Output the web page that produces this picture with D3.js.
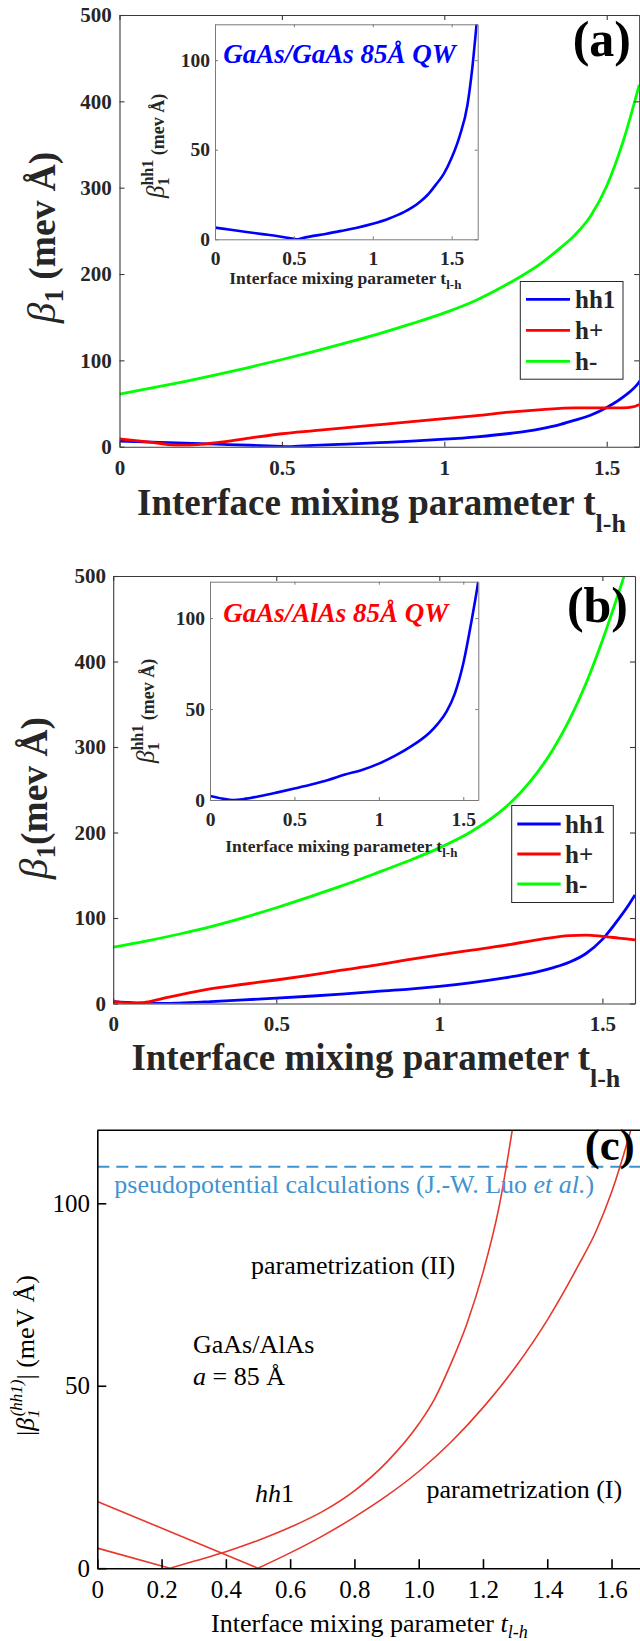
<!DOCTYPE html>
<html><head><meta charset="utf-8">
<script src="https://cdn.jsdelivr.net/npm/d3@7"></script>
<style>body{margin:0;background:#fff}svg{display:block}</style>
</head><body>
<svg id="fig" width="640" height="1641"></svg>
<script>
// ---------- DATA ----------
// Panel (a): GaAs/GaAs 85 Å QW
const aHH1_t = [0, 0.1, 0.2, 0.3, 0.4, 0.5, 0.52, 0.55, 0.6, 0.7, 0.8, 0.9, 1.0, 1.1, 1.2, 1.25, 1.3, 1.35, 1.4, 1.45, 1.5, 1.55, 1.6, 1.63, 1.66, 1.68];
const aHH1_v = [6.5, 5.3, 4.1, 2.9, 1.7, 0.3, 0, 0.6, 1.5, 3.0, 4.7, 6.5, 8.7, 11.5, 15.3, 17.8, 21, 25, 30.5, 36.5, 45.5, 57.5, 75, 95, 122, 140];
const aHp_t = [0, 0.1, 0.18, 0.25, 0.3, 0.4, 0.5, 0.6, 0.7, 0.8, 0.9, 1.0, 1.1, 1.2, 1.3, 1.4, 1.5, 1.55, 1.58, 1.6];
const aHp_v = [9, 5, 1.8, 2.8, 4.7, 10, 15, 18.5, 22, 25.5, 29, 32.5, 36, 40, 43, 45, 45, 45, 46, 49];
const aHm_t = [0, 0.1, 0.2, 0.3, 0.4, 0.5, 0.6, 0.7, 0.8, 0.9, 1.0, 1.1, 1.2, 1.3, 1.35, 1.4, 1.45, 1.5, 1.55, 1.6];
const aHm_v = [61, 68, 75.5, 83.5, 92, 101, 110.5, 120.5, 131, 142.5, 155, 170, 189.5, 213, 228, 244.5, 267, 302, 353, 419];
// Panel (b): GaAs/AlAs 85 Å QW
const bHH1_t = [0, 0.07, 0.14, 0.2, 0.3, 0.4, 0.5, 0.6, 0.7, 0.8, 0.9, 1.0, 1.1, 1.2, 1.25, 1.3, 1.35, 1.4, 1.45, 1.5, 1.55, 1.58, 1.6];
const bHH1_v = [2.2, 0.8, 0, 0.5, 2.2, 4.2, 6.3, 8.5, 11, 14, 16.5, 20, 24.5, 30, 33.2, 37, 42, 48.5, 58.5, 75, 99, 115, 127];
const bHp_t = [0, 0.03, 0.06, 0.1, 0.17, 0.28, 0.4, 0.5, 0.6, 0.7, 0.8, 0.9, 1.0, 1.1, 1.2, 1.3, 1.4, 1.45, 1.5, 1.55, 1.6];
const bHp_v = [2.5, 1, 0, 1.5, 7.5, 16, 22.5, 27.5, 33, 39, 44.5, 51, 57, 62.5, 68, 74.5, 79.5, 80, 78.5, 76.5, 74.5];
const bHm_t = [0, 0.1, 0.2, 0.3, 0.4, 0.5, 0.6, 0.7, 0.8, 0.9, 1.0, 1.1, 1.2, 1.25, 1.3, 1.35, 1.4, 1.45, 1.5, 1.55, 1.6];
const bHm_v = [66, 73, 81, 90, 100.5, 112, 124.5, 137.5, 151.5, 166, 182, 201.5, 228.5, 247, 270, 298, 332.5, 374.5, 424.5, 480.5, 540.5];
// Panel (c): hh1, two parametrizations
const cII_t = [0, 0.226, 0.3, 0.4, 0.5, 0.6, 0.7, 0.8, 0.9, 1.0, 1.05, 1.1, 1.15, 1.2, 1.25, 1.3];
const cII_v = [5.5, 0, 1.9, 4.5, 7.6, 11.2, 15.5, 21.2, 29, 39.5, 46.5, 56, 67, 81, 99, 125];
const cI_t = [0, 0.5, 0.6, 0.7, 0.8, 0.9, 1.0, 1.1, 1.2, 1.3, 1.4, 1.5, 1.55, 1.6, 1.65, 1.7];
const cI_v = [18.3, 0, 4.2, 8.8, 14, 19.8, 26.5, 34.5, 44, 55, 68, 83.5, 92, 103, 117, 133];
const cPseudo = 110;
// Ticks
const mainXTicks = [0, 0.5, 1, 1.5];
const mainYTicks = [0, 100, 200, 300, 400, 500];
const insetXTicks = [0, 0.5, 1, 1.5];
const insetYTicks = [0, 50, 100];
const cXTicks = [0, 0.2, 0.4, 0.6, 0.8, 1.0, 1.2, 1.4, 1.6];
const cYTicks = [0, 50, 100];
const legendNames = ["hh1", "h+", "h-"];
const seriesColors = ["#0000ff", "#ff0000", "#00ff00"];

// ---------- DRAWING ----------
const FONT = "'Liberation Serif','Times New Roman',Times,serif";
const INK = "#262626";
const svg = d3.select("#fig");
svg.append("rect").attr("width", 640).attr("height", 1641).attr("fill", "#fff");
let clipId = 0;

function boxAxes(x, y, o) {
  const [x0, x1] = x.range(), [y0, y1] = y.range();
  const gs = [];
  gs.push(svg.append("g").attr("transform", `translate(0,${y0})`)
    .call(d3.axisBottom(x).tickValues(o.xt).tickSize(-o.tick).tickSizeOuter(0).tickPadding(o.xpad).tickFormat(o.xfmt || (d => String(d)))));
  gs.push(svg.append("g").attr("transform", `translate(${x0},0)`)
    .call(d3.axisLeft(y).tickValues(o.yt).tickSize(-o.tick).tickSizeOuter(0).tickPadding(o.ypad).tickFormat(d => String(d))));
  if (o.box) {
    gs.push(svg.append("g").attr("transform", `translate(0,${y1})`)
      .call(d3.axisTop(x).tickValues(o.xt).tickSize(-o.tick).tickSizeOuter(0).tickFormat("")));
    gs.push(svg.append("g").attr("transform", `translate(${x1},0)`)
      .call(d3.axisRight(y).tickValues(o.yt).tickSize(-o.tick).tickSizeOuter(0).tickFormat("")));
  }
  gs.forEach(g => {
    g.attr("color", o.line).attr("font-family", FONT).attr("font-size", o.fs).attr("font-weight", o.weight);
    g.selectAll("path.domain").attr("stroke-width", o.lw);
    g.selectAll(".tick line").attr("stroke-width", o.lw);
    g.selectAll("text").attr("fill", o.ink);
  });
}

function clipFor(x, y) {
  const id = "clip" + (clipId++);
  const [x0, x1] = x.range(), [y0, y1] = y.range();
  svg.append("clipPath").attr("id", id).append("rect")
    .attr("x", x0).attr("y", y1).attr("width", x1 - x0).attr("height", y0 - y1);
  return id;
}

function curve(x, y, t, v, color, w, cid, curveType) {
  const line = d3.line().x(d => x(d[0])).y(d => y(d[1])).curve(curveType || d3.curveMonotoneX);
  svg.append("path").datum(d3.zip(t, v)).attr("d", line)
    .attr("fill", "none").attr("stroke", color).attr("stroke-width", w)
    .attr("stroke-linejoin", "round").attr("clip-path", `url(#${cid})`);
}

function text(x, y, s, o) {
  const t = svg.append("text").attr("x", x).attr("y", y).attr("font-family", FONT)
    .attr("font-size", o.fs).attr("fill", o.fill || INK);
  if (o.bold) t.attr("font-weight", "bold");
  if (o.italic) t.attr("font-style", "italic");
  if (o.anchor) t.attr("text-anchor", o.anchor);
  if (s) t.text(s);
  return t;
}

function mainPanel(p) {
  const x = d3.scaleLinear().domain([0, 1.6]).range([p.x0, p.x1]);
  const y = d3.scaleLinear().domain([0, 500]).range([p.y0, p.y1]);
  const cid = clipFor(x, y);
  curve(x, y, p.hh1[0], p.hh1[1], seriesColors[0], 2.8, cid);
  curve(x, y, p.hp[0], p.hp[1], seriesColors[1], 2.8, cid);
  curve(x, y, p.hm[0], p.hm[1], seriesColors[2], 2.8, cid);
  boxAxes(x, y, { xt: mainXTicks, yt: mainYTicks, tick: 5, xpad: 13, ypad: p.ypad, fs: 21, weight: "bold", line: "#3a3a3a", ink: INK, lw: 1.1, box: true });

  // inset
  const ix = d3.scaleLinear().domain([0, p.ixmax]).range([p.ix0, p.ix1]);
  const iy = d3.scaleLinear().domain([0, 120]).range([p.iy0, p.iy1]);
  svg.append("rect").attr("x", p.ix0).attr("y", p.iy1).attr("width", p.ix1 - p.ix0).attr("height", p.iy0 - p.iy1).attr("fill", "#fff");
  const icid = clipFor(ix, iy);
  curve(ix, iy, p.hh1[0], p.hh1[1], seriesColors[0], 2.6, icid);
  boxAxes(ix, iy, { xt: insetXTicks, yt: insetYTicks, tick: 3, xpad: 12, ypad: 5, fs: 19.5, weight: "bold", line: "#7a7a7a", ink: INK, lw: 1, box: true });
  text(p.tx, p.ty, p.title, { fs: 27, bold: true, italic: true, fill: p.titleColor });
  // inset x label
  const ixl = text(p.ixlx, p.ixly, null, { fs: 17.5, bold: true });
  ixl.append("tspan").text("Interface mixing parameter t");
  ixl.append("tspan").attr("font-size", 13).attr("dy", 5).text("l-h");
  // inset y label
  const iyl = svg.append("text").attr("transform", `translate(${p.iylx},${p.iyly}) rotate(-90)`)
    .attr("font-family", FONT).attr("font-size", 18).attr("font-weight", "bold").attr("fill", INK);
  iyl.append("tspan").attr("font-style", "italic").attr("font-weight", "normal").attr("font-size", 25).text("β");
  iyl.append("tspan").attr("font-size", 16).attr("dy", 5).text("1");
  iyl.append("tspan").attr("font-size", 16).attr("dx", -8).attr("dy", -16).text("hh1");
  iyl.append("tspan").attr("dy", 11).text(" (mev Å)");

  // main labels
  const xl = text(p.xlx, p.xly, null, { fs: 37, bold: true });
  xl.append("tspan").text("Interface mixing parameter t");
  xl.append("tspan").attr("font-size", 26).attr("dy", 17).text("l-h");
  const yl = svg.append("text").attr("transform", `translate(${p.ylx},${p.yly}) rotate(-90)`)
    .attr("font-family", FONT).attr("font-size", 37.5).attr("font-weight", "bold").attr("fill", INK);
  yl.append("tspan").attr("font-style", "italic").attr("font-weight", "normal").attr("font-size", 41).text("β");
  yl.append("tspan").attr("font-size", 27).attr("dy", 8).text("1");
  yl.append("tspan").attr("dy", -8).text(p.ylabelRest);

  // legend
  const L = p.leg;
  svg.append("rect").attr("x", L.x).attr("y", L.y).attr("width", L.w).attr("height", L.h)
    .attr("fill", "#fff").attr("stroke", INK).attr("stroke-width", 1);
  legendNames.forEach((n, i) => {
    const yy = L.ys[i];
    svg.append("line").attr("x1", L.lx0).attr("x2", L.lx1).attr("y1", yy).attr("y2", yy)
      .attr("stroke", seriesColors[i]).attr("stroke-width", 2.8);
    text(L.tx, yy, n, { fs: 25, bold: true }).attr("dy", "0.35em");
  });
  text(p.lbx, p.lby, p.letter, { fs: 50, bold: true, anchor: "end", fill: "#000" });
}

mainPanel({
  x0: 119.5, x1: 639.2, y0: 446.7, y1: 15, ypad: 7.8,
  hh1: [aHH1_t, aHH1_v], hp: [aHp_t, aHp_v], hm: [aHm_t, aHm_v],
  ixmax: 1.665, ix0: 215, ix1: 477.7, iy0: 239.3, iy1: 24.3,
  title: "GaAs/GaAs 85Å QW", titleColor: "#0000ff", tx: 223.3, ty: 62.7,
  ixlx: 229.3, ixly: 284, iylx: 164, iyly: 198,
  xlx: 137, xly: 515, ylx: 55, yly: 323, ylabelRest: " (mev Å)",
  leg: { x: 520.3, y: 281.5, w: 102.7, h: 97.7, ys: [299.3, 330.3, 361.4], lx0: 526, lx1: 570, tx: 575 },
  letter: "(a)", lbx: 631, lby: 56
});

mainPanel({
  x0: 113.2, x1: 635, y0: 1003.5, y1: 576, ypad: 7.3,
  hh1: [bHH1_t, bHH1_v], hp: [bHp_t, bHp_v], hm: [bHm_t, bHm_v],
  ixmax: 1.589, ix0: 210, ix1: 478.3, iy0: 800, iy1: 581.7,
  title: "GaAs/AlAs 85Å QW", titleColor: "#ff0000", tx: 223.3, ty: 621.7,
  ixlx: 225.3, ixly: 852, iylx: 154, iyly: 763,
  xlx: 131.4, xly: 1070, ylx: 47, yly: 879, ylabelRest: "(mev Å)",
  leg: { x: 511.7, y: 805.5, w: 101.6, h: 97, ys: [824, 854, 884], lx0: 517.3, lx1: 560.7, tx: 565 },
  letter: "(b)", lbx: 628, lby: 622
});

// ---------- Panel (c) ----------
(function () {
  const x = d3.scaleLinear().domain([0, 1.7]).range([97.3, 97.3 + 1.7 * 321.4]);
  const y = d3.scaleLinear().domain([0, 120]).range([1568.2, 1130.3]);
  const cid = clipFor(x, y);
  const red = "#e8372b", blue = "#3f93cf";
  svg.append("line").attr("x1", x(0)).attr("x2", 640).attr("y1", y(cPseudo)).attr("y2", y(cPseudo))
    .attr("stroke", blue).attr("stroke-width", 2).attr("stroke-dasharray", "12,7");
  function vcurve(t, v) {
    const i = v.indexOf(d3.min(v));
    curve(x, y, t.slice(0, i + 1), v.slice(0, i + 1), red, 1.6, cid, d3.curveLinear);
    curve(x, y, t.slice(i), v.slice(i), red, 1.6, cid, d3.curveMonotoneX);
  }
  vcurve(cII_t, cII_v);
  vcurve(cI_t, cI_v);
  boxAxes(x, y, { xt: cXTicks, yt: cYTicks, tick: 9, xpad: 12.3, ypad: 7.3, fs: 25, weight: "normal", line: "#000", ink: "#000", lw: 1.6, box: false,
    xfmt: d => d === 0 ? "0" : d.toFixed(1) });
  svg.append("line").attr("x1", x(0)).attr("x2", 640).attr("y1", y(120)).attr("y2", y(120))
    .attr("stroke", "#000").attr("stroke-width", 1.6);

  const ps = text(114.3, 1192.5, null, { fs: 26, fill: blue });
  ps.append("tspan").text("pseudopotential calculations (J.-W. Luo ");
  ps.append("tspan").attr("font-style", "italic").text("et al.");
  ps.append("tspan").text(")");
  text(251, 1274, "parametrization (II)", { fs: 26, fill: "#000" });
  text(193, 1353.4, "GaAs/AlAs", { fs: 26, fill: "#000" });
  const a = text(193, 1384.5, null, { fs: 26, fill: "#000" });
  a.append("tspan").attr("font-style", "italic").text("a");
  a.append("tspan").text(" = 85 Å");
  const hh = text(255, 1502, null, { fs: 26, fill: "#000" });
  hh.append("tspan").attr("font-style", "italic").text("hh");
  hh.append("tspan").text("1");
  text(426.5, 1498, "parametrization (I)", { fs: 26, fill: "#000" });
  text(634.7, 1160, "(c)", { fs: 45, bold: true, anchor: "end", fill: "#000" });

  const xl = text(211, 1632, null, { fs: 26, fill: "#000" });
  xl.append("tspan").text("Interface mixing parameter ");
  xl.append("tspan").attr("font-style", "italic").text("t");
  xl.append("tspan").attr("font-style", "italic").attr("font-size", 18).attr("dy", 6).text("l-h");

  const yl = svg.append("text").attr("transform", `translate(34,1436) rotate(-90)`)
    .attr("font-family", FONT).attr("font-size", 26).attr("fill", "#000");
  yl.append("tspan").text("|");
  yl.append("tspan").attr("font-style", "italic").text("β");
  yl.append("tspan").attr("font-style", "italic").attr("font-size", 17).attr("dy", 5).text("1");
  yl.append("tspan").attr("font-style", "italic").attr("font-size", 17).attr("dx", -7).attr("dy", -17).text("(hh1)");
  yl.append("tspan").attr("dy", 12).text("| (meV Å)");
})();
</script>
</body></html>
